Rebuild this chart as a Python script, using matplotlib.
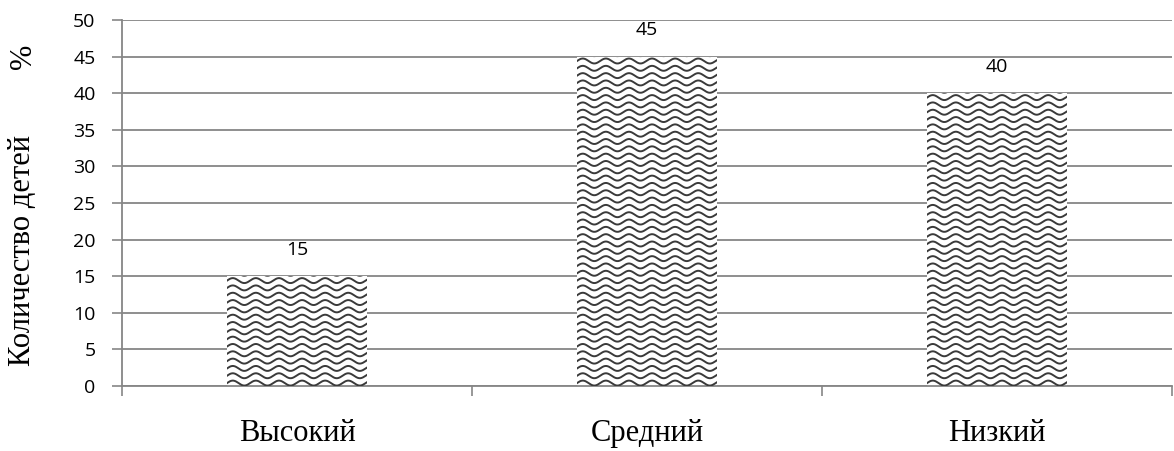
import numpy as np
import matplotlib.pyplot as plt

categories = ["Высокий", "Средний", "Низкий"]
values = [15, 45, 40]
yticks = list(range(0, 55, 5))

fig = plt.figure(figsize=(11.74, 4.51), dpi=100)
ax = fig.add_axes([122 / 1174, 65 / 451, 1050 / 1174, 366 / 451])

grey = "#868686"
x = np.arange(len(categories))
bars = ax.bar(x, values, width=0.4, color="white", edgecolor="none", zorder=2)

# wavy hatch drawn as clipped sine lines
period = 0.066
amp = 0.34
for b in bars:
    x0 = b.get_x()
    xs = np.linspace(x0 - 0.05, x0 + b.get_width() + 0.05, 400)
    for row in np.arange(0.4, b.get_height() + 1, 1.0):
        ys = row + amp * np.sin(2 * np.pi * (xs - x0) / period)
        ln, = ax.plot(xs, ys, color="#3a3a3a", lw=1.4, zorder=3)
        ln.set_clip_path(b)

for xi, v in zip(x, values):
    ax.annotate(str(v), (xi, v), xytext=(0, 19), textcoords="offset points",
                ha="center", va="center", fontsize=14, family="Open Sans")

ax.set_xlim(-0.5, 2.5)
ax.set_ylim(0, 50)
ax.set_yticks(yticks)
ax.set_yticklabels([str(t) for t in yticks], fontsize=14, family="Open Sans")
ax.set_xticks([-0.5, 0.5, 1.5, 2.5], minor=False)
ax.set_xticklabels([])
ax.set_xticks(x, minor=True)
ax.set_xticklabels(categories, minor=True, fontsize=22, family="Liberation Serif")
ax.tick_params(axis="x", which="minor", length=0, pad=24)
ax.tick_params(axis="x", which="major", length=7, color=grey, width=1.2)
ax.tick_params(axis="y", length=7, color=grey, width=1.2, pad=12)

ax.yaxis.grid(True, color=grey, lw=1.3, zorder=0)
ax.set_axisbelow(True)
for s in ["top", "right"]:
    ax.spines[s].set_visible(False)
for s in ["left", "bottom"]:
    ax.spines[s].set_color(grey)
    ax.spines[s].set_linewidth(1.3)

fig.text(23 / 1174, 1 - 251 / 451, "Количество детей", rotation=90,
         ha="center", va="center", fontsize=22, family="Liberation Serif")
fig.text(23 / 1174, 1 - 56 / 451, "%", rotation=90,
         ha="center", va="center", fontsize=22, family="Liberation Serif")

fig.savefig("out.png", dpi=100)
